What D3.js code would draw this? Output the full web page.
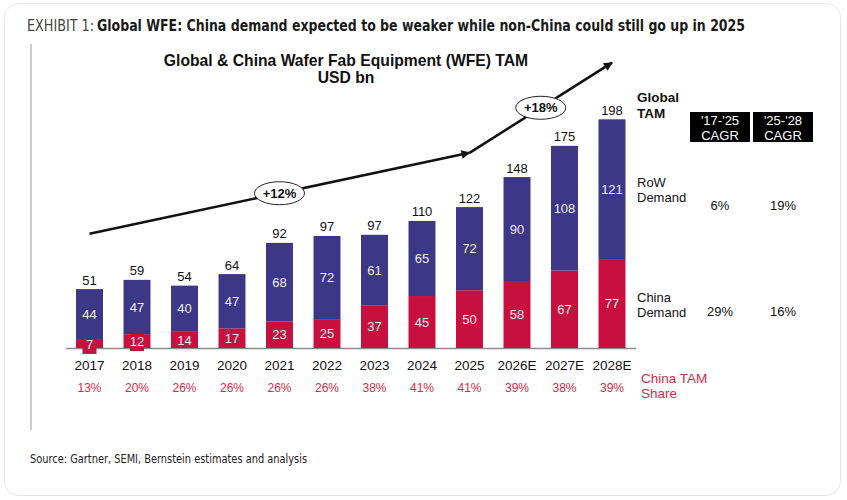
<!DOCTYPE html>
<html>
<head>
<meta charset="utf-8">
<script src="https://cdn.jsdelivr.net/npm/d3@7"></script>
<style>
  html, body { margin: 0; padding: 0; background: #fff; }
  svg { display: block; }
  text { font-family: "Liberation Sans", Arial, sans-serif; }
  .cond { font-family: "Liberation Sans Narrow", "DejaVu Sans Condensed", "Roboto Condensed", sans-serif; }
</style>
</head>
<body>
<svg id="chart" width="847" height="500"></svg>
<script>
const years = ["2017", "2018", "2019", "2020", "2021", "2022", "2023", "2024", "2025", "2026E", "2027E", "2028E"];
const chinaDemand = [7, 12, 14, 17, 23, 25, 37, 45, 50, 58, 67, 77];
const rowDemand = [44, 47, 40, 47, 68, 72, 61, 65, 72, 90, 108, 121];
const globalTam = [51, 59, 54, 64, 92, 97, 97, 110, 122, 148, 175, 198];
const chinaShare = ["13%", "20%", "26%", "26%", "26%", "26%", "38%", "41%", "41%", "39%", "38%", "39%"];

const cagrPeriods = [["'17-'25", "CAGR"], ["'25-'28", "CAGR"]];
const rowCagr = ["6%", "19%"];
const chinaCagr = ["29%", "16%"];

// growth arrows, anchored on bar centres (value units on the y scale)
const cagrArrows = [
  {from: "2017", fromV: 99, to: "2025", toV: 169, label: "+12%"},
  {from: "2025", fromV: 169, to: "2028E", toV: 247, label: "+18%"}
];

const purple = "#3d3787";
const red = "#c8103e";
const shareRed = "#d42a48";

const svg = d3.select("#chart");

// card frame
svg.append("rect")
  .attr("x", 4.5).attr("y", 3.5)
  .attr("width", 836).attr("height", 492)
  .attr("rx", 14)
  .attr("fill", "#fff")
  .attr("stroke", "#e6e6e6");

// exhibit heading
svg.append("text")
  .attr("class", "cond")
  .attr("x", 27).attr("y", 31)
  .attr("font-size", 16).attr("fill", "#444")
  .attr("textLength", 67).attr("lengthAdjust", "spacingAndGlyphs")
  .text("EXHIBIT 1:");

svg.append("text")
  .attr("class", "cond")
  .attr("x", 97).attr("y", 31)
  .attr("font-size", 16).attr("font-weight", "bold").attr("fill", "#1a1a1a")
  .attr("textLength", 648).attr("lengthAdjust", "spacingAndGlyphs")
  .text("Global WFE: China demand expected to be weaker while non-China could still go up in 2025");

svg.append("line")
  .attr("x1", 31).attr("x2", 31)
  .attr("y1", 44).attr("y2", 430)
  .attr("stroke", "#9a9a9a").attr("stroke-width", 1);

svg.append("text")
  .attr("class", "cond")
  .attr("x", 30).attr("y", 463)
  .attr("font-size", 11.5).attr("fill", "#222")
  .attr("textLength", 277).attr("lengthAdjust", "spacingAndGlyphs")
  .text("Source: Gartner, SEMI, Bernstein estimates and analysis");

// chart title
const title = svg.append("g")
  .attr("text-anchor", "middle")
  .attr("font-weight", "bold")
  .attr("font-size", 15.7)
  .attr("fill", "#111");
title.append("text").attr("x", 346).attr("y", 66).text("Global & China Wafer Fab Equipment (WFE) TAM");
title.append("text").attr("x", 346).attr("y", 83).text("USD bn");

// scales
const x = d3.scaleBand()
  .domain(years)
  .range([65.75, 635.75])
  .paddingInner(0.432)
  .paddingOuter(0.216);

const y = d3.scaleLinear()
  .domain([0, 250])
  .range([348, 59.25]);

// axis first so the bars sit on top of it
const axis = svg.append("g")
  .attr("transform", `translate(0,${y(0)})`)
  .call(d3.axisBottom(x).tickSize(0).tickPadding(12));
axis.select(".domain").attr("stroke", "#8c8c8c").attr("stroke-width", 1.5);
axis.selectAll("text")
  .attr("font-family", "Liberation Sans, Arial, sans-serif")
  .attr("font-size", 13.5)
  .attr("fill", "#111");

const rows = years.map((yr, i) => ({year: yr, china: chinaDemand[i], row: rowDemand[i]}));
const stacked = d3.stack().keys(["china", "row"])(rows);
const colors = {china: red, row: purple};

// bars
const layers = svg.append("g")
  .selectAll("g")
  .data(stacked)
  .join("g")
  .attr("fill", d => colors[d.key]);

layers.selectAll("rect")
  .data(d => d)
  .join("rect")
  .attr("x", d => x(d.data.year))
  .attr("y", d => y(d[1]))
  .attr("width", x.bandwidth())
  .attr("height", d => y(d[0]) - y(d[1]));

// tiny segments get a patch behind the label so the number stays readable
layers.each(function (layer) {
  d3.select(this).selectAll("rect.patch")
    .data(layer.filter(d => y(d[0]) - y(d[1]) < 14))
    .join("rect")
    .attr("class", "patch")
    .attr("x", d => x(d.data.year) + x.bandwidth() / 2 - 7)
    .attr("y", d => (y(d[0]) + y(d[1])) / 2 - 7)
    .attr("width", 14)
    .attr("height", 17);
});

// segment labels
layers.selectAll("text")
  .data(d => d)
  .join("text")
  .attr("x", d => x(d.data.year) + x.bandwidth() / 2)
  .attr("y", d => (y(d[0]) + y(d[1])) / 2)
  .attr("dy", "0.36em")
  .attr("text-anchor", "middle")
  .attr("font-size", 13)
  .attr("fill", "#eeecf5")
  .text(d => d[1] - d[0]);

// totals on top
svg.append("g")
  .selectAll("text")
  .data(years)
  .join("text")
  .attr("x", d => x(d) + x.bandwidth() / 2)
  .attr("y", (d, i) => y(chinaDemand[i] + rowDemand[i]) - 4.5)
  .attr("text-anchor", "middle")
  .attr("font-size", 13)
  .attr("fill", "#111")
  .text((d, i) => globalTam[i]);

// china share row
svg.append("g")
  .selectAll("text")
  .data(years)
  .join("text")
  .attr("x", d => x(d) + x.bandwidth() / 2)
  .attr("y", 391.5)
  .attr("text-anchor", "middle")
  .attr("font-size", 12)
  .attr("fill", shareRed)
  .text((d, i) => chinaShare[i]);

// growth arrows
const defs = svg.append("defs");
defs.append("marker")
  .attr("id", "head")
  .attr("viewBox", "0 0 10 10")
  .attr("refX", 9).attr("refY", 5)
  .attr("markerWidth", 4.2).attr("markerHeight", 3.4)
  .attr("markerUnits", "strokeWidth")
  .attr("orient", "auto")
  .append("path")
  .attr("d", "M0,0L10,5L0,10Z")
  .attr("fill", "#111");

const cx = d => x(d) + x.bandwidth() / 2;
const arrows = svg.append("g")
  .selectAll("g")
  .data(cagrArrows)
  .join("g");

arrows.append("line")
  .attr("x1", d => cx(d.from)).attr("y1", d => y(d.fromV))
  .attr("x2", d => cx(d.to)).attr("y2", d => y(d.toV))
  .attr("stroke", "#111")
  .attr("stroke-width", 2.6)
  .attr("marker-end", "url(#head)");

arrows.append("ellipse")
  .attr("cx", d => (cx(d.from) + cx(d.to)) / 2)
  .attr("cy", d => (y(d.fromV) + y(d.toV)) / 2)
  .attr("rx", 25).attr("ry", 11.5)
  .attr("fill", "#fff")
  .attr("stroke", "#222").attr("stroke-width", 1);

arrows.append("text")
  .attr("x", d => (cx(d.from) + cx(d.to)) / 2)
  .attr("y", d => (y(d.fromV) + y(d.toV)) / 2)
  .attr("dy", "0.36em")
  .attr("text-anchor", "middle")
  .attr("font-size", 13)
  .attr("font-weight", "bold")
  .attr("fill", "#111")
  .text(d => d.label);

// right-hand legend and CAGR table
const side = svg.append("g").attr("font-size", 13).attr("fill", "#111");

side.append("text").attr("x", 637).attr("y", 102).attr("font-weight", "bold").attr("font-size", 13.5).text("Global");
side.append("text").attr("x", 637).attr("y", 118).attr("font-weight", "bold").attr("font-size", 13.5).text("TAM");

side.append("text").attr("x", 637).attr("y", 187).text("RoW");
side.append("text").attr("x", 637).attr("y", 202).text("Demand");
side.append("text").attr("x", 637).attr("y", 302).text("China");
side.append("text").attr("x", 637).attr("y", 317).text("Demand");

const colX = [720, 783];
const head = side.selectAll("g.head")
  .data(cagrPeriods)
  .join("g")
  .attr("class", "head")
  .attr("transform", (d, i) => `translate(${colX[i]},0)`);
head.append("rect")
  .attr("x", -30).attr("y", 112)
  .attr("width", 60).attr("height", 30)
  .attr("fill", "#000");
head.selectAll("text")
  .data(d => d)
  .join("text")
  .attr("y", (d, i) => 124.5 + i * 15)
  .attr("text-anchor", "middle")
  .attr("fill", "#fff")
  .attr("font-size", 13)
  .text(d => d);

side.selectAll("text.rowc")
  .data(rowCagr)
  .join("text")
  .attr("class", "rowc")
  .attr("x", (d, i) => colX[i]).attr("y", 209.5)
  .attr("text-anchor", "middle")
  .text(d => d);

side.selectAll("text.chc")
  .data(chinaCagr)
  .join("text")
  .attr("class", "chc")
  .attr("x", (d, i) => colX[i]).attr("y", 316)
  .attr("text-anchor", "middle")
  .text(d => d);

const shareLbl = svg.append("g").attr("fill", shareRed).attr("font-size", 13.5);
shareLbl.append("text").attr("x", 641).attr("y", 383).text("China TAM");
shareLbl.append("text").attr("x", 641).attr("y", 398).text("Share");
</script>
</body>
</html>
